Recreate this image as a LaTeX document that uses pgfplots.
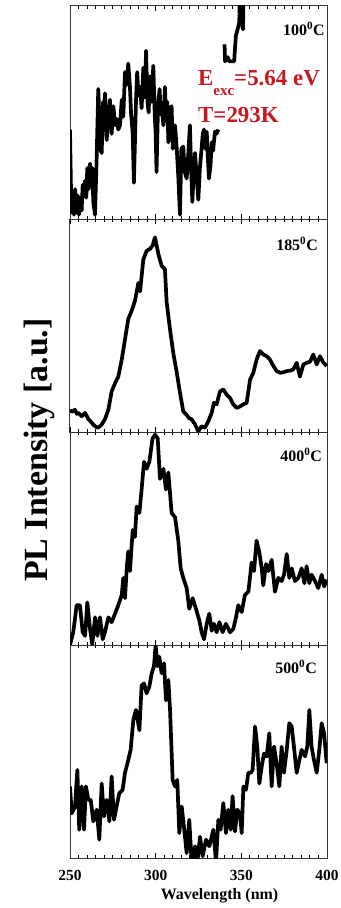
\documentclass[border=0pt]{standalone}
\usepackage{fontspec}
\setmainfont{Liberation Serif}
\usepackage{pgfplots}
\pgfplotsset{compat=1.18}
\usepgfplotslibrary{groupplots}
\definecolor{annot}{RGB}{198,24,30}
\pgfplotsset{
  panel/.style={
    width=257bp, height=213bp, scale only axis,
    xmin=250, xmax=400, ymin=0, ymax=100,
    ytick=\empty, xtick={250,300,350,400}, minor x tick num=9,
    tick align=inside, xtick pos=both,
    major tick length=5bp, minor tick length=3bp,
    every tick/.style={black, line width=0.9bp},
    axis line style={black!80, line width=1bp},
    /pgf/number format/assume math mode=true,
    xticklabel style={font=\fontsize{15.5}{16}\selectfont\bfseries, anchor=base, yshift=-22bp, inner sep=0},
    clip mode=individual,
  },
  curve/.style={black, line width=3.7bp, line join=round, no marks},
}
\tikzset{plab/.style={anchor=north east, inner sep=0, font=\fontsize{16}{18}\selectfont\bfseries}}
\begin{document}
\begin{tikzpicture}
\begin{groupplot}[group style={group size=1 by 4, vertical sep=0pt, xticklabels at=edge bottom}, panel]
\nextgroupplot
\addplot[curve] coordinates {
(250.0,42) (250.8,3) (251.5,12) (252.3,2) (253.0,14) (253.7,3) (254.5,11) (255.2,2) (256.0,10) (256.8,4)
(257.4,16) (258.2,12) (258.8,18) (259.5,10) (260.1,24) (260.9,14) (261.7,26) (262.3,16) (263.0,24) (263.6,8)
(264.6,2) (265.6,30) (266.5,61) (267.1,48) (267.5,33) (268.5,31) (269.3,55) (270.0,42) (270.4,59) (271.4,37)
(272.4,49) (273.3,56) (274.3,40) (275.3,53) (276.3,44) (277.2,47) (278.2,42) (279.2,44) (280.2,56) (281.1,48)
(282.1,69) (283.1,63) (284.0,73) (285.0,62) (285.6,50) (286.6,40) (287.3,17) (288.5,55) (289.2,69) (290.0,58)
(290.9,62) (291.8,52) (292.8,71) (293.6,57) (294.4,79) (295.2,55) (295.9,50) (296.7,67) (297.7,55) (298.6,72)
(299.5,48) (300.0,40) (300.5,22) (301.4,54) (302.3,61) (303.0,49) (303.7,52) (304.5,44) (305.4,62) (306.2,46)
(306.8,55) (307.4,36) (308.4,51) (309.3,53) (310.0,33) (311.3,44) (312.3,33) (313.2,20) (314.2,2) (315.0,33)
(316.1,34) (317.0,22) (318.1,19) (319.0,30) (320.0,44) (320.6,26) (321.4,8) (322.2,22) (323.0,31) (323.8,21)
(324.9,9) (325.8,24) (326.8,33) (327.5,40) (328.2,42) (329.0,33) (329.8,41) (330.5,28) (331.1,19) (332.0,25)
(332.7,36) (333.5,32) (334.6,41) (335.5,40) (336.6,42)
};
\addplot[curve] coordinates {
(340.2,82) (340.5,74) (342.0,76) (343.0,74) (345.8,74) (346.8,86) (347.8,89) (348.8,92) (349.4,125) (350.3,92) (351.0,89) (351.6,125)
};
\node[plab] at (rel axis cs:0.992,0.925) {100\textsuperscript{0}C};
\node[anchor=base west, inner sep=0, text=annot, font=\fontsize{23}{26}\selectfont\bfseries] at (rel axis cs:0.498,0.629) {E\raisebox{-10bp}{\fontsize{15}{15}\selectfont exc}=5.64 eV};
\node[anchor=base west, inner sep=0, text=annot, font=\fontsize{23}{26}\selectfont\bfseries] at (rel axis cs:0.498,0.451) {T=293K};

\nextgroupplot[ylabel={PL Intensity [a.u.]}, ylabel style={at={(rel axis cs:-0.086,-0.085)}, anchor=base, inner sep=0, font=\fontsize{34}{40}\selectfont\bfseries}]
\addplot[curve] coordinates {
(250.0,10.2) (251.5,9.5) (252.9,10.5) (254.0,8.5) (254.9,9) (256.8,7.4) (258.8,9) (260.7,6) (262.0,5) (263.6,3.5)
(265.0,2.5) (266.5,2) (268.5,3.5) (270.4,6) (272.4,10.5) (274.3,19) (276.3,23) (278.2,26) (280.2,34) (282.1,43.5)
(284.0,53) (286.0,57) (287.9,61.5) (289.9,70) (290.9,66) (292.8,81) (294.7,85) (296.7,86) (298.2,87.5) (299.6,91.4)
(301.6,83.5) (303.5,78) (305.4,76.5) (306.4,61) (308.4,48) (310.3,37) (312.3,28) (314.2,18.4) (316.1,9.7) (318.1,8)
(319.5,6.5) (321.0,6) (323.0,3.5) (324.9,0.3) (326.8,2.7) (328.8,2) (330.7,5) (332.7,9) (334.0,13.7) (335.6,13)
(337.5,19) (339.5,20) (341.4,17.6) (343.4,16) (345.3,13) (347.3,11.3) (349.2,12) (351.2,13) (353.1,13.7) (355.1,24.6)
(357.0,27.8) (358.9,34) (360.9,38) (362.8,36.4) (364.8,35.6) (366.7,34) (368.7,31) (370.6,28.6) (372.6,27.8) (374.5,28)
(376.5,28.6) (378.5,28.8) (380.3,29.4) (382.3,32.5) (384.2,26) (386.2,31.7) (388.1,32.5) (390.1,33) (392.0,36.4) (394.0,31.7)
(395.9,35.6) (397.9,32.5) (399.8,31)
};
\node[plab] at (rel axis cs:0.965,0.915) {185\textsuperscript{0}C};

\nextgroupplot
\addplot[curve] coordinates {
(250.0,0) (251.9,6) (253.9,18.7) (255.8,18.7) (257.4,6) (258.8,4.3) (260.1,20) (261.7,7.5) (263.0,0.3) (264.6,13)
(266.0,4.3) (267.5,13) (269.1,2.7) (270.4,6) (272.4,13) (274.3,10.7) (276.3,14.7) (278.2,18.7) (280.2,23.5) (281.1,31.5)
(282.1,22) (283.1,36) (284.0,44) (285.0,34.7) (286.6,54) (287.9,50.7) (288.9,65) (290.5,62) (291.8,73) (293.2,86)
(294.7,82.7) (296.3,86) (298.2,97) (299.6,98.7) (301.2,97) (302.5,78) (304.5,82.7) (306.0,73) (307.4,81) (309.3,62)
(311.3,60) (313.2,49) (314.6,36) (316.1,31.5) (318.1,26.7) (319.6,17) (321.6,22) (323.5,17) (325.5,11.5) (326.8,6)
(328.2,2.7) (329.8,10) (331.3,14.7) (332.7,6.7) (334.0,10) (335.6,6) (337.2,10.7) (339.1,6) (341.0,10) (343.4,6)
(345.3,7.5) (346.9,13) (348.2,18.7) (350.2,15.5) (352.1,23.5) (354.1,25) (356.0,38.7) (357.4,34.7) (358.9,49) (360.5,43.5)
(361.9,36) (362.8,28) (364.4,38) (365.8,34.7) (367.7,40) (369.6,25) (371.6,31.5) (373.5,30) (374.9,33) (376.5,42.7)
(378.0,31.5) (379.4,36) (381.3,30) (383.3,31.5) (385.2,36) (386.8,29) (388.1,37) (389.7,29) (391.0,33) (393.0,30)
(394.9,26.7) (396.9,33) (398.4,27.5) (399.8,30.7)
};
\node[plab] at (rel axis cs:0.981,0.925) {400\textsuperscript{0}C};

\nextgroupplot[xlabel={Wavelength (nm)}, xlabel style={at={(rel axis cs:0.582,0)}, anchor=base, yshift=-41bp, inner sep=0, font=\fontsize{16}{18}\selectfont\bfseries}]
\addplot[curve] coordinates {
(250.0,33.6) (251.0,21) (252.9,24) (254.3,41.4) (255.4,13.3) (256.8,33.6) (258.2,13.3) (259.3,33.6) (260.7,27.3) (262.1,27.3)
(263.6,17.2) (265.6,22.7) (267.1,8.6) (268.5,35) (269.8,19.5) (271.4,27.3) (273.0,17.2) (274.3,38.3) (275.7,18) (277.2,24.2)
(278.8,30.5) (280.7,32) (282.1,40) (284.0,46) (285.4,50.8) (287.0,65) (288.5,69.5) (290.5,60) (291.8,81) (293.2,82)
(294.7,77.3) (296.3,80.5) (297.7,86.7) (299.0,90) (300.0,100) (301.0,90) (302.1,94.5) (303.5,86.7) (304.9,91.4) (306.0,74)
(307.4,83.6) (308.4,69.5) (309.9,36.7) (311.3,33.6) (312.6,36.7) (313.8,11.7) (315.2,24.2) (316.5,14.8) (318.1,2.3) (319.6,18)
(321.0,-2) (323.0,5.5) (324.3,-2) (325.9,10) (327.4,0.8) (329.4,8.6) (331.3,5.5) (333.7,13.3) (335.2,-2) (336.6,18)
(337.9,13.3) (339.5,25.8) (341.0,11.7) (342.4,22.7) (343.8,13.3) (344.9,29) (346.3,12.5) (347.7,22.7) (349.2,20.7) (350.2,11.7)
(351.2,33.6) (352.7,32) (354.1,40) (355.5,40) (356.6,41.4) (358.0,61.7) (359.3,52.3) (360.5,35) (361.9,43) (363.2,49)
(364.8,47.7) (366.3,58.6) (367.7,33.6) (369.1,52.3) (370.6,44.5) (372.2,33.6) (373.5,52.3) (374.9,40) (376.5,50.8) (378.0,63.3)
(379.4,61.7) (380.7,52.3) (382.3,40) (383.9,46) (385.2,50.8) (387.2,47.7) (388.5,52.3) (389.7,69.5) (391.0,52.3) (392.4,46)
(394.0,40) (395.5,50.8) (396.9,63.3) (398.3,58.6) (399.8,44.5)
};
\node[plab] at (rel axis cs:0.961,0.93) {500\textsuperscript{0}C};
\end{groupplot}
\pgfresetboundingbox
\path ([shift={(-70bp,6bp)}]group c1r1.north west) rectangle ++(341bp,-908bp);
\end{tikzpicture}
\end{document}
